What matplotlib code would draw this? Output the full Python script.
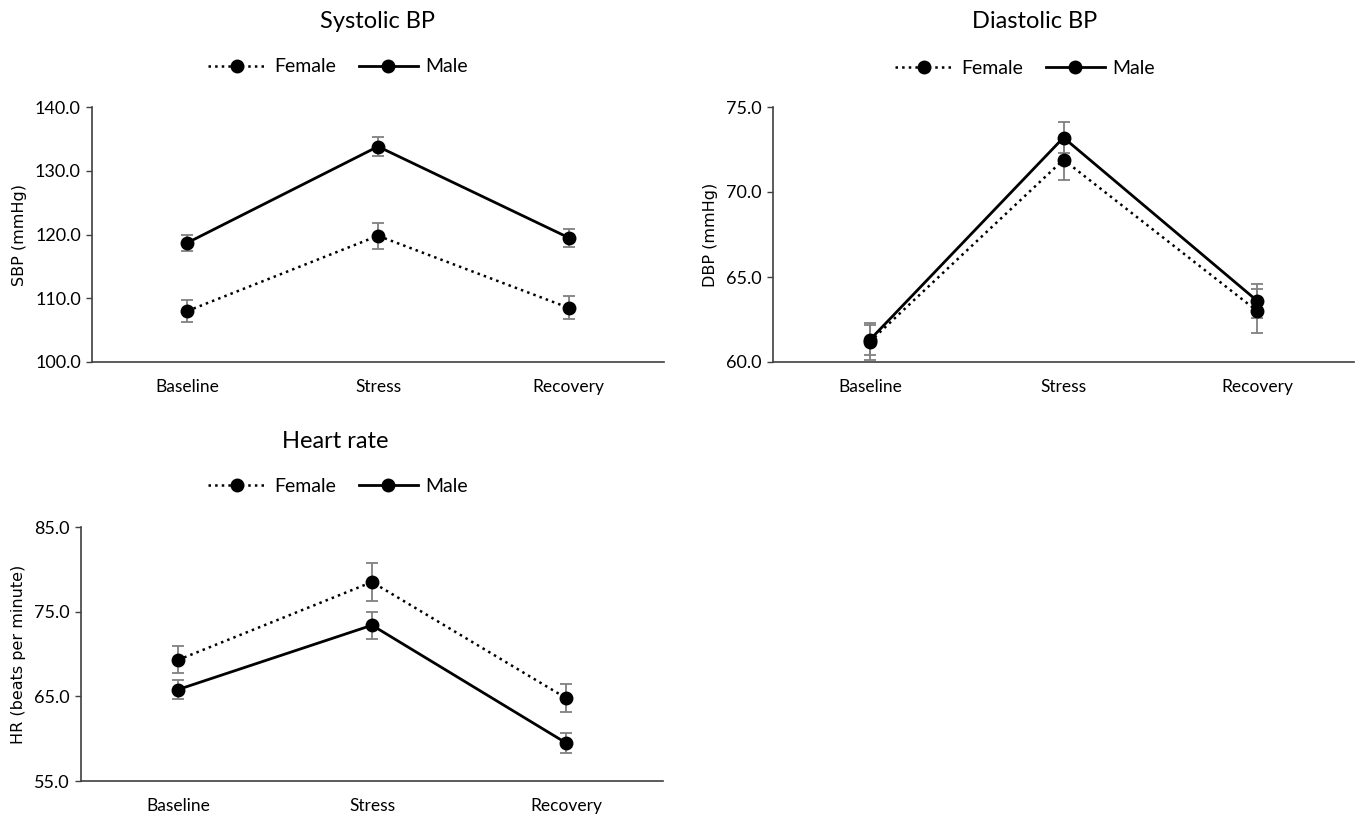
import matplotlib.pyplot as plt

conditions = ['Baseline', 'Stress', 'Recovery']

sbp_female = [108.0, 119.8, 108.5]
sbp_female_err = [1.7, 2.0, 1.8]
sbp_male = [118.7, 133.8, 119.5]
sbp_male_err = [1.3, 1.5, 1.4]

dbp_female = [61.2, 71.9, 63.0]
dbp_female_err = [1.1, 1.2, 1.3]
dbp_male = [61.3, 73.2, 63.6]
dbp_male_err = [0.9, 0.9, 1.0]

hr_female = [69.3, 78.5, 64.8]
hr_female_err = [1.6, 2.2, 1.7]
hr_male = [65.8, 73.4, 59.5]
hr_male_err = [1.1, 1.6, 1.2]

plt.rcParams['font.family'] = ['Lato', 'DejaVu Sans']

W, H = 1358, 819
fig = plt.figure(figsize=(W / 100, H / 100), dpi=100)


def panel(rect, title, title_xy, legend_xy, ylabel, female, ferr, male, merr, ylim, yticks):
    l, t, r, b = rect
    ax = fig.add_axes([l / W, 1 - b / H, (r - l) / W, (b - t) / H])
    x = range(len(conditions))
    ax.errorbar(x, female, yerr=ferr, fmt='none', ecolor='#808080', elinewidth=1.3, capsize=4, capthick=1.3, zorder=2)
    ax.errorbar(x, male, yerr=merr, fmt='none', ecolor='#808080', elinewidth=1.3, capsize=4, capthick=1.3, zorder=2)
    fl, = ax.plot(x, female, linestyle=':', color='black', linewidth=1.8, marker='o', markersize=9, label='Female', zorder=3)
    ml, = ax.plot(x, male, linestyle='-', color='black', linewidth=2, marker='o', markersize=9, label='Male', zorder=3)
    ax.set_xlim(-0.5, 2.5)
    ax.set_ylim(*ylim)
    ax.set_yticks(yticks)
    ax.set_yticklabels(['%.1f' % v for v in yticks], fontsize=13)
    ax.set_xticks(list(x))
    ax.set_xticklabels(conditions, fontsize=12.5)
    ax.tick_params(axis='x', length=0, pad=12)
    ax.tick_params(axis='y', length=4, width=1, color='#404040', pad=4)
    for s in ['top', 'right']:
        ax.spines[s].set_visible(False)
    for s in ['left', 'bottom']:
        ax.spines[s].set_color('#404040')
        ax.spines[s].set_linewidth(1.2)
    ax.set_ylabel(ylabel, fontsize=11.5, family=['DejaVu Sans'], labelpad=6)
    fig.text(title_xy[0] / W, 1 - title_xy[1] / H, title, fontsize=17, ha='center', va='center')
    fig.legend(handles=[fl, ml], loc='center', bbox_to_anchor=(legend_xy[0] / W, 1 - legend_xy[1] / H),
               ncol=2, frameon=False, fontsize=14, handlelength=3, columnspacing=1.2, handletextpad=0.4)
    return ax


panel((92, 107, 664, 362), 'Systolic BP', (378, 22), (338, 67), 'SBP (mmHg)',
      sbp_female, sbp_female_err, sbp_male, sbp_male_err, (100, 140), [100, 110, 120, 130, 140])
panel((773, 107, 1354, 362), 'Diastolic BP', (1035, 22), (1025, 68), 'DBP (mmHg)',
      dbp_female, dbp_female_err, dbp_male, dbp_male_err, (60, 75), [60, 65, 70, 75])
panel((81, 527, 663, 781), 'Heart rate', (335, 441), (338, 486), 'HR (beats per minute)',
      hr_female, hr_female_err, hr_male, hr_male_err, (55, 85), [55, 65, 75, 85])

fig.savefig('out.png', dpi=100)
